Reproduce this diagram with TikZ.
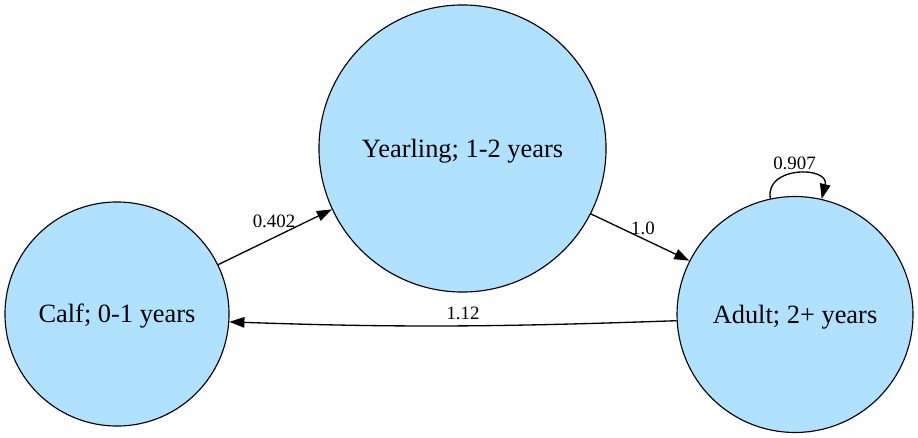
\documentclass[tikz,border=0pt]{standalone}
\usepackage{fontspec}
\setmainfont{Liberation Serif}
\usetikzlibrary{arrows.meta}
\definecolor{nodefill}{HTML}{B0E2FF}
\begin{document}
\begin{tikzpicture}[x=0.5302pt,y=0.5302pt,
  state/.style={circle,draw=black,fill=nodefill,line width=0.6pt,inner sep=0pt,
    font=\fontsize{14}{16}\selectfont,text height=13pt,text depth=3.5pt},
  edge/.style={draw=black,line width=0.7pt,-{Triangle[length=8pt,width=5.6pt]}},
  lbl/.style={font=\fontsize{10}{12}\selectfont,inner sep=0pt}]
\useasboundingbox (0,0) rectangle (918,-437);
\node[state,minimum size=118.8pt] (calf) at (117,-314) {Calf; 0-1 years};
\node[state,minimum size=152.2pt] (year) at (462.5,-148.5) {Yearling; 1-2 years};
\node[state,minimum size=125.1pt] (adult) at (795,-314.5) {Adult; 2+ years};
\draw[edge] (calf.26) -- (year.205.4);
\draw[edge] (year.333.5) -- (adult.153.4);
\draw[edge] (adult.183.2) to[out=182,in=358] (calf.356.9);
\draw[edge] (adult.102) .. controls +(-6,33) and +(8,33) .. (adult.77);
\node[lbl] (l1) at (274,-221.5) {0.402};
\node[lbl] (l2) at (643,-228) {1.0};
\node[lbl] (l3) at (463,-313.5) {1.12};
\node[lbl] (l4) at (794.5,-163) {0.907};
\end{tikzpicture}
\end{document}
